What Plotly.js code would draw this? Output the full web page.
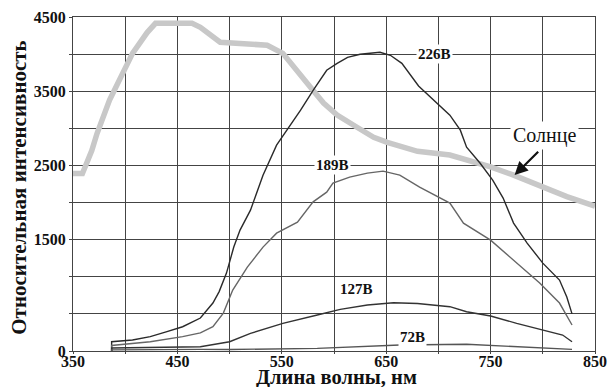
<!DOCTYPE html>
<html>
<head>
<meta charset="utf-8">
<script src="https://cdn.plot.ly/plotly-3.0.1.min.js"></script>
<style>html,body{margin:0;padding:0;background:#fff;}#chart{width:610px;height:387px;}</style>
</head>
<body>
<div id="chart"></div>
<script>
// Sun spectrum (gray thick line)
var sunX = [350, 359, 368, 373, 385, 398, 407, 421, 429, 464, 472, 491, 536, 551, 565, 580, 590, 603, 622, 638, 651, 680, 711, 730, 750, 772, 797, 823, 850];
var sunY = [2390, 2390, 2700, 2930, 3380, 3760, 4010, 4290, 4415, 4415, 4360, 4160, 4120, 4010, 3780, 3510, 3340, 3180, 3015, 2880, 2810, 2690, 2640, 2570, 2480, 2370, 2220, 2080, 1950];

// 226 V
var x226 = [387, 387, 407, 424, 440, 455, 472, 484, 490, 497, 504, 510, 520, 527, 532, 545, 558, 568, 580, 593, 603, 613, 625, 644, 654, 665, 681, 699, 711, 721, 727, 740, 752, 762, 772, 785, 800, 816, 823, 828];
var y226 = [0, 125, 148, 193, 260, 327, 444, 646, 800, 1050, 1400, 1629, 1898, 2167, 2369, 2773, 3042, 3244, 3513, 3782, 3876, 3957, 3998, 4025, 3984, 3876, 3570, 3338, 3177, 2975, 2746, 2530, 2302, 2060, 1723, 1454, 1184, 956, 727, 500];

// 189 V
var x189 = [387, 387, 424, 455, 472, 484, 494, 503, 517, 532, 545, 565, 580, 593, 599, 615, 632, 647, 663, 682, 711, 724, 750, 772, 797, 816, 828];
var y189 = [0, 75, 125, 193, 244, 327, 511, 821, 1131, 1400, 1588, 1736, 2010, 2140, 2261, 2342, 2396, 2423, 2369, 2207, 1992, 1723, 1494, 1225, 915, 646, 350];

// 127 V
var x127 = [387, 387, 472, 500, 520, 551, 584, 606, 632, 657, 680, 711, 727, 750, 775, 800, 819, 828];
var y127 = [0, 40, 58, 125, 238, 372, 485, 561, 619, 650, 640, 597, 529, 471, 373, 283, 215, 125];

// 72 V
var x72 = [387, 387, 472, 500, 584, 647, 663, 727, 775, 828];
var y72 = [0, 15, 22, 20, 36, 72, 81, 90, 58, 22];

var xTickVals = [350, 400, 450, 500, 550, 600, 650, 700, 750, 800, 850];
var xTickText = ['350', '', '450', '', '550', '', '650', '', '750', '', '850'];
var yTickVals = [0, 500, 1000, 1500, 2000, 2500, 3000, 3500, 4000, 4500];
var yTickText = ['0', '', '', '1500', '', '2500', '', '3500', '', '4500'];

var FONT = 'Liberation Serif, Times New Roman, serif';

var traces = [
  {x: sunX, y: sunY, mode: 'lines', line: {color: '#c8c8c8', width: 5.5}, name: 'Солнце'},
  {x: x226, y: y226, mode: 'lines', line: {color: '#2a2a2a', width: 1.4}, name: '226В'},
  {x: x189, y: y189, mode: 'lines', line: {color: '#666666', width: 1.4}, name: '189В'},
  {x: x127, y: y127, mode: 'lines', line: {color: '#333333', width: 1.4}, name: '127В'},
  {x: x72, y: y72, mode: 'lines', line: {color: '#555555', width: 1.4}, name: '72В'}
];

var labelFont = {family: FONT, size: 15, color: '#111', weight: 'bold'};

var layout = {
  width: 610, height: 387,
  margin: {l: 73, r: 15, t: 17, b: 36},
  paper_bgcolor: '#fff', plot_bgcolor: '#fff',
  showlegend: false,
  font: {family: FONT, color: '#111'},
  xaxis: {
    range: [350, 850], tickvals: xTickVals, ticktext: xTickText,
    showgrid: true, gridcolor: '#444', gridwidth: 1,
    showline: true, mirror: true, linecolor: '#444', linewidth: 1,
    zeroline: false, ticks: 'outside', ticklen: 2, tickcolor: '#444',
    ticklabelstandoff: -6,
    tickfont: {family: FONT, size: 16, color: '#111', weight: 'bold'}
  },
  yaxis: {
    range: [0, 4500], tickvals: yTickVals, ticktext: yTickText,
    showgrid: true, gridcolor: '#444', gridwidth: 1,
    showline: true, mirror: true, linecolor: '#444', linewidth: 1,
    zeroline: false, ticks: 'outside', ticklen: 3, tickcolor: '#444',
    tickfont: {family: FONT, size: 16, color: '#111', weight: 'bold'}
  },
  annotations: [
    {x: 0.505, y: -0.08, xref: 'paper', yref: 'paper', xanchor: 'center', yanchor: 'middle', text: 'Длина волны, нм', showarrow: false, font: {family: FONT, size: 20.5, color: '#111', weight: 'bold'}},
    {x: -0.104, y: 0.488, xref: 'paper', yref: 'paper', xanchor: 'center', yanchor: 'middle', textangle: -90, text: 'Относительная интенсивность', showarrow: false, font: {family: FONT, size: 21, color: '#111', weight: 'bold'}},
    {x: 696, y: 4000, xref: 'x', yref: 'y', text: '226В', showarrow: false, font: labelFont, bgcolor: '#fff', borderpad: 1},
    {x: 599, y: 2500, xref: 'x', yref: 'y', text: '189В', showarrow: false, font: labelFont, bgcolor: '#fff', borderpad: 1},
    {x: 622, y: 834, xref: 'x', yref: 'y', text: '127В', showarrow: false, font: labelFont, bgcolor: '#fff', borderpad: 1},
    {x: 675, y: 193, xref: 'x', yref: 'y', text: '72В', showarrow: false, font: labelFont, bgcolor: '#fff', borderpad: 1},
    {x: 802, y: 2907, xref: 'x', yref: 'y', text: 'Солнце', showarrow: false, font: {family: FONT, size: 20, color: '#111'}, bgcolor: '#fff', borderpad: 2},
    {x: 773, y: 2370, xref: 'x', yref: 'y', ax: 797, ay: 2705, axref: 'x', ayref: 'y', text: '', showarrow: true, arrowhead: 2, arrowsize: 1.2, arrowwidth: 2.2, arrowcolor: '#111'}
  ]
};

Plotly.newPlot('chart', traces, layout, {displayModeBar: false, staticPlot: true});
</script>
</body>
</html>
